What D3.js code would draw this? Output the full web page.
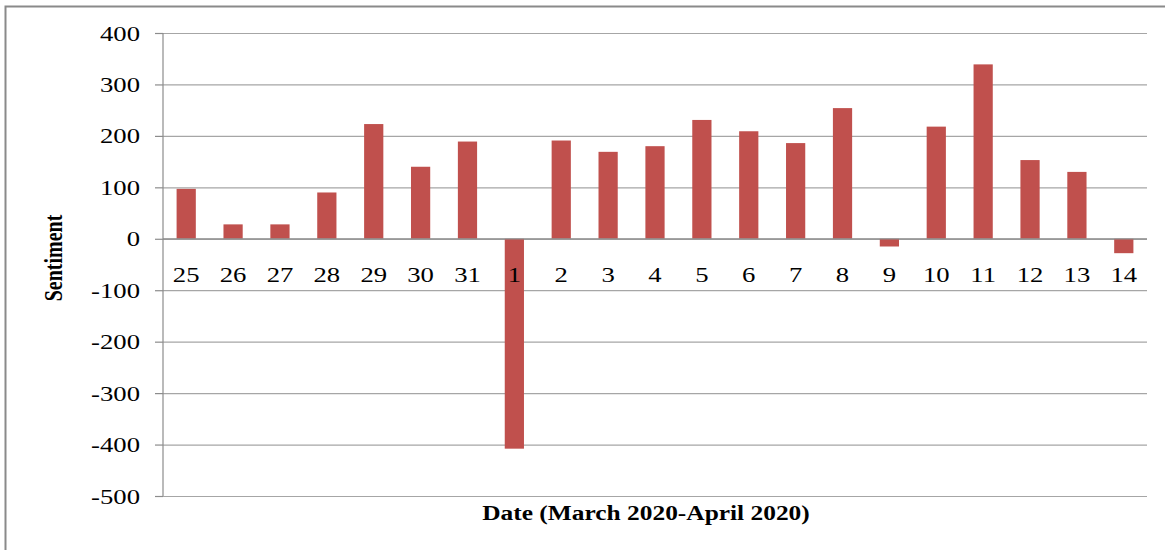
<!DOCTYPE html>
<html>
<head>
<meta charset="utf-8">
<script src="https://cdn.jsdelivr.net/npm/d3@7"></script>
<style>
  body { margin: 0; background: #fff; }
  svg { display: block; }
  text { font-family: "Liberation Serif", "Times New Roman", serif; fill: #000; }
</style>
</head>
<body>
<script>
// days from 25 March to 14 April 2020
var days = ["25", "26", "27", "28", "29", "30", "31", "1", "2", "3", "4",
  "5", "6", "7", "8", "9", "10", "11", "12", "13", "14"];
var sentiment = [97, 28, 28, 90, 223, 140, 189, -408, 191, 169, 180,
  231, 209, 186, 254, -15, 218, 339, 153, 130, -28];
var yTicks = [400, 300, 200, 100, 0, -100, -200, -300, -400, -500];

var width = 1165, height = 550;
var margin = { top: 33, right: 18, bottom: 54, left: 163 };
var stretch = 1.27; // text in the picture is wider than normal

var svg = d3.select("body").append("svg")
  .attr("width", width)
  .attr("height", height);

// outer frame, cut off at the right and bottom
svg.append("rect")
  .attr("x", 5.5).attr("y", 6.5)
  .attr("width", width + 20).attr("height", height + 20)
  .attr("fill", "none")
  .attr("stroke", "#8a8a8a")
  .attr("stroke-width", 2);

var x = d3.scaleBand()
  .domain(days)
  .range([margin.left, width - margin.right])
  .paddingInner(0.59)
  .paddingOuter(0.29);

var y = d3.scaleLinear()
  .domain([-500, 400])
  .range([height - margin.bottom, margin.top]);

// gridlines with small ticks on the left
svg.append("g")
  .attr("transform", "translate(" + margin.left + ",0)")
  .call(d3.axisLeft(y).tickValues(yTicks)
    .tickSize(-(width - margin.left - margin.right))
    .tickFormat(""))
  .call(function (g) {
    g.select(".domain").remove();
    g.selectAll(".tick line").attr("stroke", "#a6a6a6").attr("stroke-width", 1.2);
  });

svg.append("g")
  .attr("transform", "translate(" + margin.left + ",0)")
  .call(d3.axisLeft(y).tickValues(yTicks).tickSize(8).tickFormat(""))
  .call(function (g) {
    g.select(".domain").remove();
    g.selectAll(".tick line").attr("stroke", "#8c8c8c").attr("stroke-width", 1.2);
  });

svg.append("line")
  .attr("x1", margin.left).attr("x2", margin.left)
  .attr("y1", y(400)).attr("y2", y(-500))
  .attr("stroke", "#8c8c8c")
  .attr("stroke-width", 1.2);

// y tick labels
svg.append("g")
  .selectAll("text")
  .data(yTicks)
  .enter()
  .append("text")
  .attr("transform", function (d) {
    return "translate(140," + (y(d) + 7.5) + ") scale(" + stretch + ",1)";
  })
  .attr("text-anchor", "end")
  .style("font-size", "21px")
  .text(function (d) { return d; });

// bars
svg.append("g")
  .selectAll("rect")
  .data(sentiment)
  .enter()
  .append("rect")
  .attr("x", function (d, i) { return x(days[i]); })
  .attr("width", x.bandwidth())
  .attr("y", function (d) { return y(Math.max(0, d)); })
  .attr("height", function (d) { return Math.abs(y(d) - y(0)); })
  .attr("fill", "#c0504d");

// zero line over the bars
svg.append("line")
  .attr("x1", margin.left).attr("x2", width - margin.right)
  .attr("y1", y(0)).attr("y2", y(0))
  .attr("stroke", "#8c8c8c")
  .attr("stroke-width", 1.2);

// category labels
svg.append("g")
  .selectAll("text")
  .data(days)
  .enter()
  .append("text")
  .attr("transform", function (d) {
    return "translate(" + (x(d) + x.bandwidth() / 2) + ",282) scale(" + stretch + ",1)";
  })
  .attr("text-anchor", "middle")
  .style("font-size", "21px")
  .text(function (d) { return d; });

// axis titles
svg.append("text")
  .attr("transform", "translate(646,520) scale(" + stretch + ",1)")
  .attr("text-anchor", "middle")
  .style("font-size", "20px")
  .style("font-weight", "bold")
  .text("Date (March 2020-April 2020)");

svg.append("text")
  .attr("transform", "translate(62,258) rotate(-90) scale(1," + stretch + ")")
  .attr("text-anchor", "middle")
  .style("font-size", "20px")
  .style("font-weight", "bold")
  .text("Sentiment");
</script>
</body>
</html>
